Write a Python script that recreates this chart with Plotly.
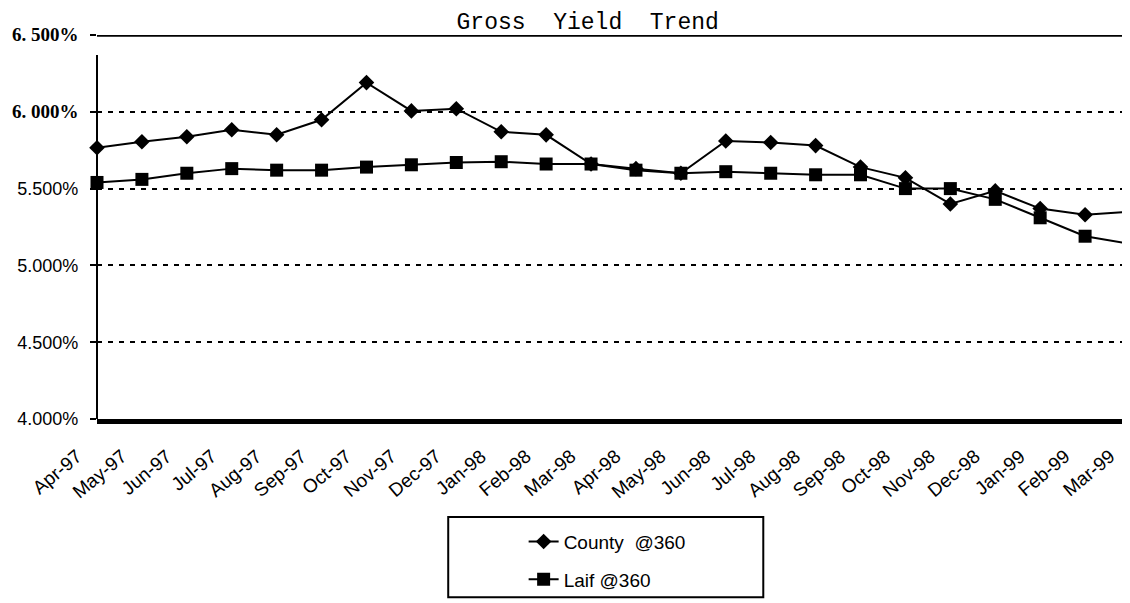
import plotly.graph_objects as go

months = ["Apr-97", "May-97", "Jun-97", "Jul-97", "Aug-97", "Sep-97", "Oct-97", "Nov-97",
          "Dec-97", "Jan-98", "Feb-98", "Mar-98", "Apr-98", "May-98", "Jun-98", "Jul-98",
          "Aug-98", "Sep-98", "Oct-98", "Nov-98", "Dec-98", "Jan-99", "Feb-99", "Mar-99"]

county = [5.766, 5.805, 5.838, 5.883, 5.851, 5.948, 6.190, 6.006, 6.020, 5.870, 5.850, 5.660,
          5.630, 5.600, 5.810, 5.800, 5.780, 5.640, 5.570, 5.400, 5.485, 5.370, 5.330, 5.350]

laif = [5.540, 5.560, 5.600, 5.630, 5.620, 5.620, 5.640, 5.655, 5.670, 5.675, 5.660, 5.660,
        5.620, 5.600, 5.610, 5.600, 5.590, 5.590, 5.500, 5.500, 5.430, 5.310, 5.190, 5.140]

y_ticks = [4.0, 4.5, 5.0, 5.5, 6.0, 6.5]
serif = "<span style='font-family:Liberation Serif;font-weight:bold;font-size:19px'>%s</span>"
y_labels = ["4.000%", "4.500%", "5.000%", "5.500%", serif % "6. 000%", serif % "6. 500%"]

fig = go.Figure()
fig.add_trace(go.Scatter(
    x=months, y=county, name="County  @360", mode="lines+markers",
    line=dict(color="black", width=2),
    marker=dict(symbol="diamond", size=12, color="black"),
    cliponaxis=False, legendgroup="a",
))
fig.add_trace(go.Scatter(
    x=months, y=laif, name="Laif @360", mode="lines+markers",
    line=dict(color="black", width=2),
    marker=dict(symbol="square", size=13, color="black"),
    cliponaxis=False, legendgroup="b",
))

# top border and left axis line (left one stops short of the top, as in the scan)
fig.add_shape(type="line", xref="paper", yref="y", x0=0, x1=1.01, y0=6.5, y1=6.5,
              line=dict(color="black", width=3.5))
fig.add_shape(type="line", xref="paper", yref="y", x0=0, x1=0, y0=4.0, y1=6.37,
              line=dict(color="black", width=2))
# legend frame
fig.add_shape(type="rect", xref="paper", yref="paper", x0=0.34, x1=0.645, y0=-0.464, y1=-0.255,
              line=dict(color="black", width=2))

# the page body adds an 8px offset, so margins are trimmed by 8 on the left/top
fig.update_layout(
    width=1130, height=603,
    paper_bgcolor="white", plot_bgcolor="white",
    margin=dict(l=89, r=8, t=27, b=192, autoexpand=False),
    font=dict(family="Liberation Sans, Arial", color="black"),
    title=dict(text="Gross\u00a0 Yield\u00a0 Trend", x=0.513, xanchor="center",
               y=0.979, yanchor="middle", xref="container", yref="container",
               font=dict(family="Liberation Mono, Courier New", size=23, color="black")),
    showlegend=True,
    legend=dict(x=0.413, xanchor="left", y=-0.27, yanchor="top",
                font=dict(size=19, color="black"), bgcolor="rgba(0,0,0,0)",
                traceorder="grouped", tracegroupgap=10),
)

fig.update_xaxes(
    type="category", range=[0, 23], showgrid=False, zeroline=False,
    showline=True, linecolor="black", linewidth=5, automargin=False,
    tickangle=-40, tickfont=dict(size=19, color="black"),
    ticks="", ticklabelstandoff=14, ticklabelshift=-20,
)
fig.update_yaxes(
    range=[4.0, 6.5], tickvals=y_ticks, ticktext=y_labels, automargin=False,
    showgrid=True, gridcolor="black", gridwidth=1.8, griddash="5px,6px",
    zeroline=False, showline=False,
    ticks="outside", ticklen=6, tickcolor="black", tickwidth=1.5,
    tickfont=dict(size=18, color="black"), ticklabelstandoff=8,
)

fig.write_html("out.html")
